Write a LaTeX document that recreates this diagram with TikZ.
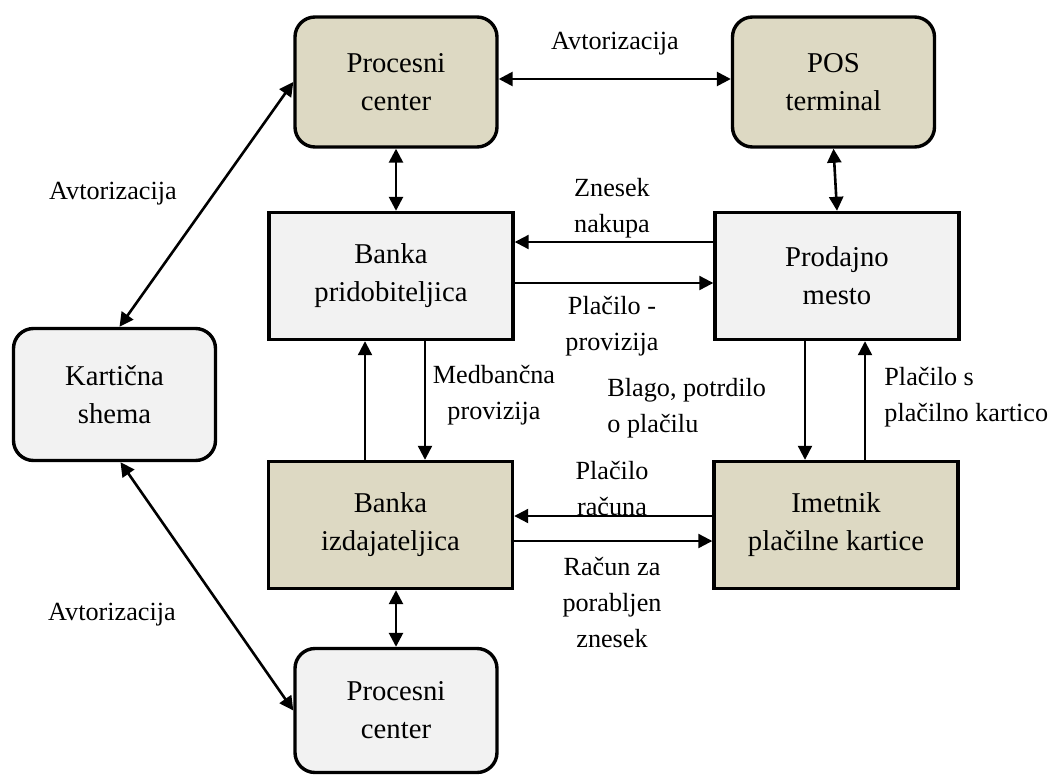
\documentclass[tikz,border=0pt]{standalone}
\usepackage{fontspec}
\setmainfont{Liberation Serif}
\usetikzlibrary{arrows.meta,calc}
\definecolor{beige}{HTML}{DDD9C3}
\definecolor{lgray}{HTML}{F2F2F2}
\begin{document}
\begin{tikzpicture}[x=0.5pt,y=-0.5pt,
 boxbase/.style={draw=black, line width=1.7pt, align=center, font=\fontsize{14.35}{19}\selectfont, inner sep=0pt},
 roundbox/.style={boxbase, rounded corners=10pt, minimum width=101pt, minimum height=65pt},
 sqbox/.style={boxbase, minimum width=122pt, minimum height=63.5pt},
 lab/.style={font=\fontsize{13.1}{18}\selectfont, align=center, inner sep=0pt},
 both/.style={{Triangle[length=7pt,width=7pt]}-{Triangle[length=7pt,width=7pt]}, line width=1.3pt},
 one/.style={-{Triangle[length=7pt,width=7pt]}, line width=1.1pt},
]
\useasboundingbox (0,0) rectangle (1054,776);

\node[roundbox, fill=beige] (pc1) at (396,82) {Procesni\\center};
\node[roundbox, fill=beige] (pos) at (833.5,82) {POS\\terminal};
\node[sqbox, fill=lgray] (bp) at (391,276) {Banka\\pridobiteljica};
\node[sqbox, fill=lgray] (pm) at (837,276) {Prodajno\\mesto};
\node[roundbox, fill=lgray, minimum height=66pt] (ks) at (114.5,394.5) {Kartična\\shema};
\node[sqbox, fill=beige] (bi) at (390.5,525) {Banka\\izdajateljica};
\node[sqbox, fill=beige] (im) at (836,525) {Imetnik\\plačilne kartice};
\node[roundbox, fill=lgray, minimum height=62pt] (pc2) at (396,710.5) {Procesni\\center};

% connectors
\draw[both] ($(pc1.east)+(0,-3)$) -- ($(pos.west)+(0,-3)$);
\draw[both] (pc1.south) -- (pc1.south |- bp.north);
\draw[both] (pos.south) -- (pm.north);
\draw[one] ($(pm.west)+(0,-34)$) -- ($(bp.east)+(0,-34)$);
\draw[one] ($(bp.east)+(0,7)$) -- ($(pm.west)+(0,7)$);

\coordinate (a1) at ($(bi.north)+(-25.5,0)$);
\draw[one] (a1) -- (a1 |- bp.south);
\coordinate (a2) at ($(bp.south)+(34,0)$);
\draw[one] (a2) -- (a2 |- bi.north);
\coordinate (a3) at ($(pm.south)+(-32,0)$);
\draw[one] (a3) -- (a3 |- im.north);
\coordinate (a4) at ($(im.north)+(29,0)$);
\draw[one] (a4) -- (a4 |- pm.south);

\draw[one] ($(im.west)+(0,-9)$) -- ($(bi.east)+(0,-9)$);
\draw[one] ($(bi.east)+(0,16)$) -- ($(im.west)+(0,16)$);
\draw[both] (pc2.north |- bi.south) -- (pc2.north);

\draw[both] (pc1.west) -- ($(ks.north)+(5,0)$);
\draw[both] ($(ks.south)+(6,0)$) -- (pc2.west);

% labels
\node[lab] (l1) at (615,44) {Avtorizacija};
\node[lab] (l2) at (113,194) {Avtorizacija};
\node[lab] (l3) at (112,615) {Avtorizacija};
\node[lab] (l4) at (612,208) {Znesek\\nakupa};
\node[lab] (l5) at (612,326) {Plačilo -\\provizija};
\node[lab] (l6) at (494,395) {Medbančna\\provizija};
\node[lab, align=left, anchor=west] (l7) at (607,408) {Blago, potrdilo\\o plačilu};
\node[lab, align=left, anchor=west] (l8) at (884,397) {Plačilo s\\plačilno kartico};
\node[lab] (l9) at (612,489) {Plačilo\\računa};
\node[lab] (l10) at (612,603) {Račun za\\porabljen\\znesek};
\end{tikzpicture}
\end{document}
